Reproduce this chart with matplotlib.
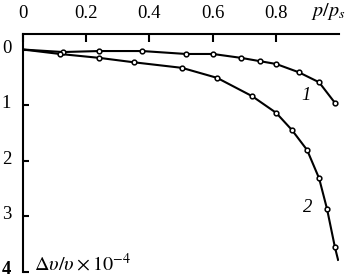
import matplotlib
matplotlib.use("Agg")
import matplotlib.pyplot as plt
import matplotlib.transforms as mtransforms

plt.rcParams['font.family'] = ['Liberation Serif', 'DejaVu Serif']
plt.rcParams['mathtext.fontset'] = 'stix'

# data
p1 = [0.127, 0.241, 0.377, 0.516, 0.601, 0.690, 0.750, 0.801, 0.873, 0.937, 0.987]
d1 = [0.045, 0.027, 0.027, 0.08, 0.08, 0.15, 0.21, 0.26, 0.41, 0.59, 0.96]
p2 = [0.117, 0.241, 0.351, 0.503, 0.614, 0.725, 0.801, 0.851, 0.899, 0.937, 0.962, 0.987]
d2 = [0.08, 0.15, 0.23, 0.33, 0.51, 0.84, 1.14, 1.45, 1.81, 2.32, 2.87, 3.56]
line1_p = [0.0] + p1
line1_d = [0.0] + d1
line2_p = [0.0] + p2 + [0.997]
line2_d = [0.0] + d2 + [3.79]
xticks = [0, 0.2, 0.4, 0.6, 0.8]
xticklabels = ['0', '0.2', '0.4', '0.6', '0.8']
yticks = [0, 1, 2, 3, 4]
yticklabels = ['0', '1', '2', '3', '4']

fig = plt.figure(figsize=(3.47, 2.77), dpi=100)
ax = fig.add_axes([23/347, 1-271.5/277, (339-23)/347, (271.5-34)/277])
ax.set_xlim(0, 1.0)
ax.set_ylim(4, -0.28)

for lp, ld, mp, md in [(line1_p, line1_d, p1, d1), (line2_p, line2_d, p2, d2)]:
    ax.plot(lp, ld, color='black', lw=1.5, zorder=2)
    ax.plot(mp, md, ls='none', marker='o', ms=3.4, mfc='white', mec='black', mew=1.1, zorder=3)

for s in ['bottom', 'right']:
    ax.spines[s].set_visible(False)
for s in ['top', 'left']:
    ax.spines[s].set_linewidth(1.5)

ax.xaxis.tick_top()
ax.set_xticks(xticks)
ax.set_xticklabels(xticklabels)
ax.tick_params(axis='x', direction='in', length=6, width=1.5, pad=9, labelsize=13.5)
ax.set_yticks(yticks)
ax.set_yticklabels([])
ax.tick_params(axis='y', direction='in', length=4, width=1.5)

trans = mtransforms.blended_transform_factory(ax.transAxes, ax.transData)
trans = trans + mtransforms.ScaledTranslation(0, 1.5/100, fig.dpi_scale_trans)
for v, lab in zip(yticks, yticklabels):
    ax.text(-0.052, v, lab, transform=trans, ha='center', va='center', fontsize=13.5,
            fontweight='bold' if lab == '4' else 'normal', clip_on=False)

fig.text(328/347, 1-12/277, r'$p/p_s$', fontsize=14.5, ha='center', va='center')
ax.text(0.895, 0.83, '1', fontsize=13.5, style='italic', ha='center', va='center')
ax.text(0.90, 2.85, '2', fontsize=13.5, style='italic', ha='center', va='center')
fig.text(34/347, 1-265/277, r'$\Delta\upsilon/\upsilon\times10^{-4}$', fontsize=14.5, ha='left', va='center')

fig.savefig('out.png', dpi=100)
